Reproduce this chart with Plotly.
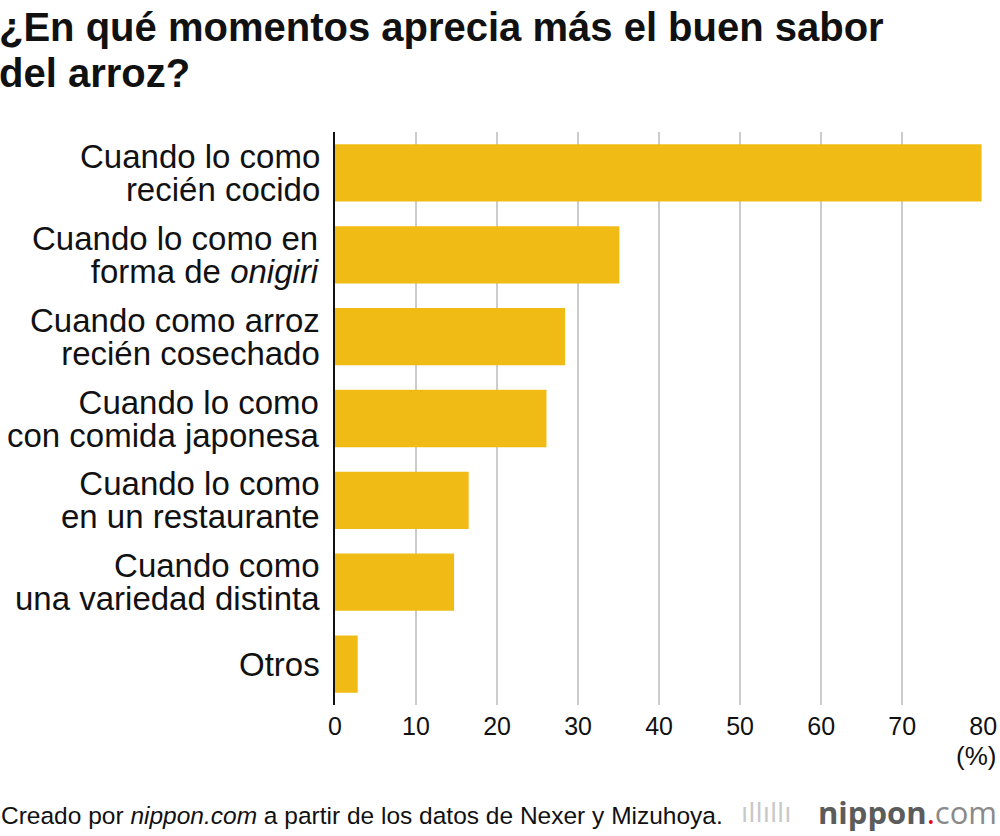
import plotly.graph_objects as go

categories = [
    ["Cuando lo como", "recién cocido"],
    ["Cuando lo como en", "forma de <i>onigiri</i>"],
    ["Cuando como arroz", "recién cosechado"],
    ["Cuando lo como", "con comida japonesa"],
    ["Cuando lo como", "en un restaurante"],
    ["Cuando como", "una variedad distinta"],
    ["Otros"],
]
cat_keys = ["c%d" % i for i in range(len(categories))]
values = [79.8, 35.1, 28.4, 26.1, 16.5, 14.7, 2.8]
tick_vals = [0, 10, 20, 30, 40, 50, 60, 70, 80]

BAR = "#F0BB15"
FONT = "Liberation Sans, Arial, sans-serif"
PW = 648.8  # plot width in px
LABEL_PX = 33
LINE_PX = 33

fig = go.Figure()
fig.add_trace(go.Bar(
    x=values, y=cat_keys, orientation="h",
    marker=dict(color=BAR, line=dict(width=0)),
    width=0.7, hoverinfo="skip",
))

annotations = []
for key, lines in zip(cat_keys, categories):
    text = "<br>".join("<span style='font-size:%dpx'>%s</span>" % (LABEL_PX, l) for l in lines)
    annotations.append(dict(
        x=0, xref="paper", y=key, yref="y", text=text,
        xanchor="right", yanchor="middle", xshift=-13, align="right",
        showarrow=False, font=dict(family=FONT, size=LINE_PX / 1.3, color="#111"),
    ))

annotations.append(dict(
    x=-335 / PW, xref="paper", y=(705 - 27) / 573, yref="paper",
    text="<b>¿En qué momentos aprecia más el buen sabor</b>",
    xanchor="left", yanchor="middle", showarrow=False, xshift=-3,
    font=dict(family=FONT, size=40, color="#111"),
))
annotations.append(dict(
    x=-335 / PW, xref="paper", y=(705 - 73) / 573, yref="paper",
    text="<b>del arroz?</b>",
    xanchor="left", yanchor="middle", showarrow=False, xshift=-3,
    font=dict(family=FONT, size=40, color="#111"),
))
annotations.append(dict(
    x=(998 - 335) / PW, xref="paper", y=(705 - 756) / 573, yref="paper", text="(%)",
    xanchor="right", yanchor="middle", showarrow=False,
    font=dict(family=FONT, size=26, color="#111"),
))
annotations.append(dict(
    x=-335 / PW, xref="paper", y=(705 - 815) / 573, yref="paper",
    text="Creado por <i>nippon.com</i> a partir de los datos de Nexer y Mizuhoya.",
    xanchor="left", yanchor="middle", showarrow=False, xshift=-1,
    font=dict(family=FONT, size=24.5, color="#111"),
))
annotations.append(dict(
    x=(794 - 335) / PW, xref="paper", y=(705 - 813) / 573, yref="paper",
    text="ıllıllı",
    xanchor="right", yanchor="middle", showarrow=False,
    font=dict(family="DejaVu Sans, sans-serif", size=26, color="#c8c8c8"),
))
annotations.append(dict(
    x=(999 - 335) / PW, xref="paper", y=(705 - 812) / 573, yref="paper",
    text="<b>nippon</b><span style='color:#e60012'>.</span><span style='color:#8a8a8a'>com</span>",
    xanchor="right", yanchor="middle", showarrow=False,
    font=dict(family="Open Sans, sans-serif", size=31, color="#5c5c5c"),
))

fig.update_layout(
    width=1000, height=836,
    margin=dict(l=335, r=16.2, t=132, b=131, autoexpand=False),
    paper_bgcolor="white", plot_bgcolor="white",
    showlegend=False, bargap=0.3,
    annotations=annotations,
    xaxis=dict(
        range=[0, 80.1], tickvals=tick_vals, ticktext=[str(v) for v in tick_vals],
        showgrid=True, gridcolor="#cccccc", gridwidth=1.5,
        zeroline=False, showline=False, ticks="", automargin=False,
        tickfont=dict(family=FONT, size=25, color="#111"),
        ticklabelstandoff=4,
    ),
    yaxis=dict(
        categoryorder="array", categoryarray=cat_keys,
        autorange="reversed", range=[6.5, -0.5], automargin=False,
        showticklabels=False, showgrid=False, zeroline=False,
        showline=True, linecolor="#111", linewidth=2, ticks="",
    ),
)
fig.write_html("out.html")
